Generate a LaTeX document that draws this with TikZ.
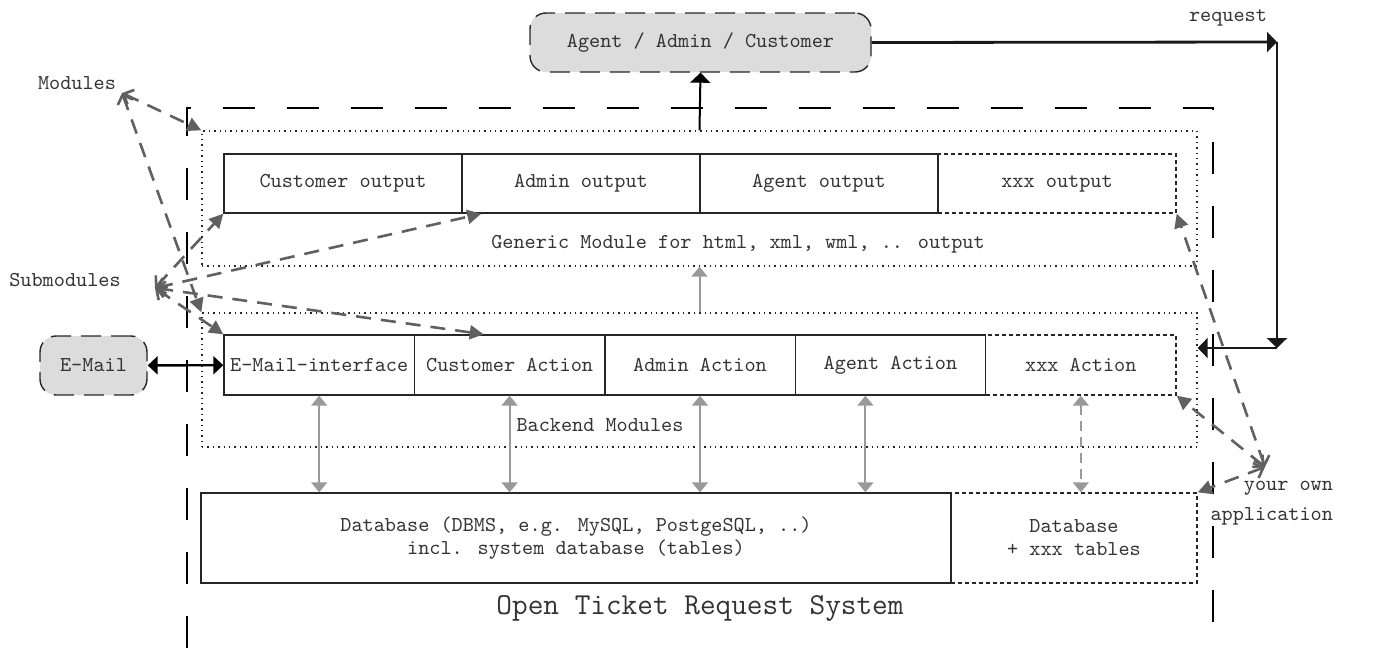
\documentclass[tikz,border=0pt]{standalone}
\usepackage{fontspec}
\usetikzlibrary{arrows.meta,positioning}
\definecolor{boxgray}{HTML}{DCDCDD}
\definecolor{linkgray}{HTML}{606060}
\definecolor{flowgray}{HTML}{999999}

\begin{document}
\begin{tikzpicture}[x=0.5pt,y=-0.5pt,font=\ttfamily\fontsize{10.6}{11.5}\selectfont,text=black!80]
  \tikzstyle{subbox}=[draw=black!85, line width=0.7pt, minimum height=29.5pt, inner sep=0pt];
  \tikzstyle{xsubbox}=[subbox, dash pattern=on 2pt off 1.5pt];
  \tikzstyle{modbox}=[draw=black!85, line width=0.7pt, dotted, minimum width=497.5pt, minimum height=67.5pt];
  \tikzstyle{roundbox}=[draw=black!85, fill=boxgray, line width=0.7pt, rounded corners=8pt, dash pattern=on 10pt off 5pt, minimum height=29.5pt];
  \tikzstyle{hintarrow}=[draw=linkgray, line width=1.3pt, dash pattern=on 7.5pt off 5pt, {Straight Barb[length=4pt,width=8pt]}-{Triangle[length=7pt,width=7pt]}];
  \tikzstyle{flowarrow}=[draw=flowgray, line width=1pt, {Triangle[length=5pt,width=8pt]}-{Triangle[length=5pt,width=8pt]}];
  \tikzstyle{req}=[draw=black!90, line width=1.4pt, -{Triangle[length=5pt,width=10pt]}];

  \useasboundingbox (0,0) rectangle (1377,648);

  % system frame
  \draw [line width=1pt, dash pattern=on 16pt off 16pt] (187,648) -- (187,108) -- (1213,108) -- (1213,648);
  \node[font=\ttfamily\fontsize{15.2}{17}\selectfont] (title) at (700,608) {Open Ticket Request System};

  % users
  \node[roundbox, minimum width=170.5pt] (agent) at (700.5,42.5) {Agent / Admin / Customer};
  \node[roundbox, minimum width=53.5pt] (email) at (93.5,365.5) {E-Mail};

  % output modules
  \node[modbox] (outmod) at (699.5,198.5) {};
  \foreach \n/\t [count=\i from 0] in {cout/Customer output, aout/Admin output, gout/Agent output}
    \node[subbox, minimum width=119pt] (\n) at (343+238*\i,183.5) {\t};
  \node[xsubbox, minimum width=119pt] (xout) at (1057,183.5) {xxx output};
  \node (outlbl) at (738,244) {Generic Module for html, xml, wml, .. output};

  % backend modules
  \node[modbox, minimum height=67pt] (backmod) at (699.5,380) {};
  \foreach \n/\t [count=\i from 0] in {mail/E-Mail-interface, cact/Customer Action, aact/Admin Action, gact/Agent Action}
    \node[subbox, minimum width=95.2pt, minimum height=30pt] (\n) at (319.2+190.4*\i,365) {\t};
  \node[xsubbox, minimum width=95.2pt, minimum height=30pt] (xact) at (1080.8,365) {xxx Action};
  \node (backlbl) at (600,425) {Backend Modules};

  % database
  \node[subbox, minimum width=375pt, minimum height=45pt, align=center] (db) at (576,538)
    {Database (DBMS, e.g. MySQL, PostgeSQL, ..)\\incl. system database (tables)};
  \node[xsubbox, minimum width=123pt, minimum height=45pt, align=center] (xdb) at (1074,538)
    {Database\\+ xxx tables};

  % flows
  \draw [line width=1pt, -{Triangle[length=5pt,width=10pt]}] (outmod.north) -- (agent.south);
  \draw [draw=flowgray, line width=1pt, -{Triangle[length=5pt,width=8pt]}] (backmod.north) -- (outmod.south);
  \draw [line width=1.2pt, {Triangle[length=5pt,width=9pt]}-{Triangle[length=5pt,width=9pt]}] (email) -- (mail);
  \foreach \n in {mail,cact,aact}
    \draw [flowarrow] (\n.south) -- (\n.south |- db.north);
  \draw [flowarrow] ([xshift=-12.5pt]gact.south) -- ([xshift=-12.5pt]gact.south |- db.north);
  \draw [flowarrow, dash pattern=on 5pt off 3pt] (xact.south) -- (xact.south |- db.north);

  % request
  \coordinate (req1) at (1277,42);
  \coordinate (req2) at (1277,348);
  \node (reqlbl) at (1228,18) {request};
  \draw [req] (agent.east) -- (req1);
  \draw [req] (req1) -- (req2);
  \draw [req] (req2) -- (req2 -| backmod.east);

  % hints
  \node (modlbl) at (77,83) {Modules};
  \coordinate (modtip) at (122,93);
  \draw [hintarrow] (modtip) -- (outmod.north west);
  \draw [hintarrow] (modtip) -- (backmod.north west);

  \node (sublbl) at (65,280) {Submodules};
  \coordinate (subtip) at (155,288);
  \draw [hintarrow] (subtip) -- (cout.south west);
  \draw [hintarrow] (subtip) -- ([xshift=10pt]aout.south west);
  \draw [hintarrow] (subtip) -- (mail.north west);
  \draw [hintarrow] (subtip) -- ([xshift=35pt]cact.north west);

  \node[align=right, anchor=east] (applbl) at (1340,503) {your own\\[3.5pt]application};
  \coordinate (apptip) at (1265,467);
  \draw [hintarrow] (apptip) -- (xout.south east);
  \draw [hintarrow] (apptip) -- (xact.south east);
  \draw [hintarrow] (apptip) -- (xdb.north east);
\end{tikzpicture}
\end{document}
